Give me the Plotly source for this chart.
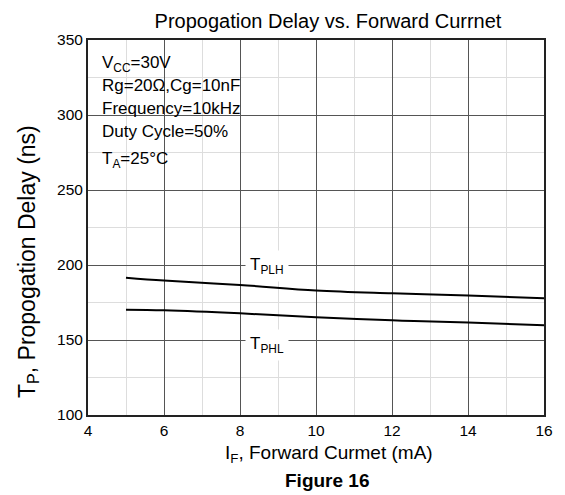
import plotly.graph_objects as go

x_if = [5, 6, 8, 10, 12, 14, 16]
t_plh = [191.5, 189.6, 186.7, 183.0, 181.1, 179.6, 177.8]
t_phl = [170.2, 169.8, 167.8, 165.1, 163.1, 161.6, 159.8]
x_ticks = [4, 6, 8, 10, 12, 14, 16]
y_ticks = [100, 150, 200, 250, 300, 350]
cond_lines = ["V<sub>CC</sub>=30V", "Rg=20Ω,Cg=10nF", "Frequency=10kHz",
              "Duty Cycle=50%", "T<sub>A</sub>=25°C"]
cond_y = [0.9368, 0.880, 0.8179, 0.7555, 0.6808]

FONT = "Liberation Sans, Arial, sans-serif"

fig = go.Figure()
fig.add_trace(go.Scatter(x=x_if, y=t_plh, mode="lines", line=dict(color="black", width=2, shape="spline"),
                         showlegend=False))
fig.add_trace(go.Scatter(x=x_if, y=t_phl, mode="lines", line=dict(color="black", width=2, shape="spline"),
                         showlegend=False))

ann = []
ann.append(dict(x=8.7, y=200, xref="x", yref="y", text="T<sub>PLH</sub>", showarrow=False,
                bgcolor="white", borderpad=4, font=dict(size=17, color="black", family=FONT), yshift=-1))
ann.append(dict(x=8.7, y=150, xref="x", yref="y", text="T<sub>PHL</sub>", showarrow=False,
                bgcolor="white", borderpad=4, font=dict(size=17, color="black", family=FONT), yshift=-5))
for t, yy in zip(cond_lines, cond_y):
    ann.append(dict(x=0.026, y=yy, xref="paper", yref="paper", text=t, showarrow=False,
                    xanchor="left", yanchor="middle",
                    font=dict(size=17, color="black", family=FONT)))
ann.append(dict(x=0.528, y=-0.103, xref="paper", yref="paper",
                text="I<sub>F</sub>, Forward Curmet (mA)", showarrow=False,
                xanchor="center", yanchor="middle", font=dict(size=19, color="black", family=FONT)))
ann.append(dict(x=0.524, y=-0.1752, xref="paper", yref="paper", text="<b>Figure 16</b>", showarrow=False,
                xanchor="center", yanchor="middle", font=dict(size=19, color="black", family=FONT)))
ann.append(dict(x=-0.132, y=0.41, xref="paper", yref="paper",
                text="T<sub>P</sub>, Propogation Delay (ns)", showarrow=False, textangle=-90,
                xanchor="center", yanchor="middle", font=dict(size=23, color="black", family=FONT)))

fig.update_layout(
    width=557, height=487,
    margin=dict(l=80, r=15, t=32, b=80),
    paper_bgcolor="white", plot_bgcolor="white",
    font=dict(family=FONT, color="black"),
    title=dict(text="Propogation Delay vs. Forward Currnet", x=0.5745, xanchor="center",
               y=0.973, yanchor="middle", font=dict(size=20, color="black", family=FONT)),
    annotations=ann,
    xaxis=dict(range=[4, 16], tickvals=x_ticks, ticks="", showline=True, linecolor="#222222",
               linewidth=2, mirror=True, showgrid=True, gridcolor="#555555", gridwidth=1,
               zeroline=False, tickfont=dict(size=15.5, color="black"),
               minor=dict(dtick=1, showgrid=True, gridcolor="#dddddd", gridwidth=1)),
    yaxis=dict(range=[100, 350], tickvals=y_ticks, ticks="", showline=True, linecolor="#222222",
               linewidth=2, mirror=True, showgrid=True, gridcolor="#555555", gridwidth=1,
               zeroline=False, tickfont=dict(size=15.5, color="black"),
               minor=dict(dtick=25, showgrid=True, gridcolor="#dddddd", gridwidth=1)),
)

fig.write_html("out.html")
